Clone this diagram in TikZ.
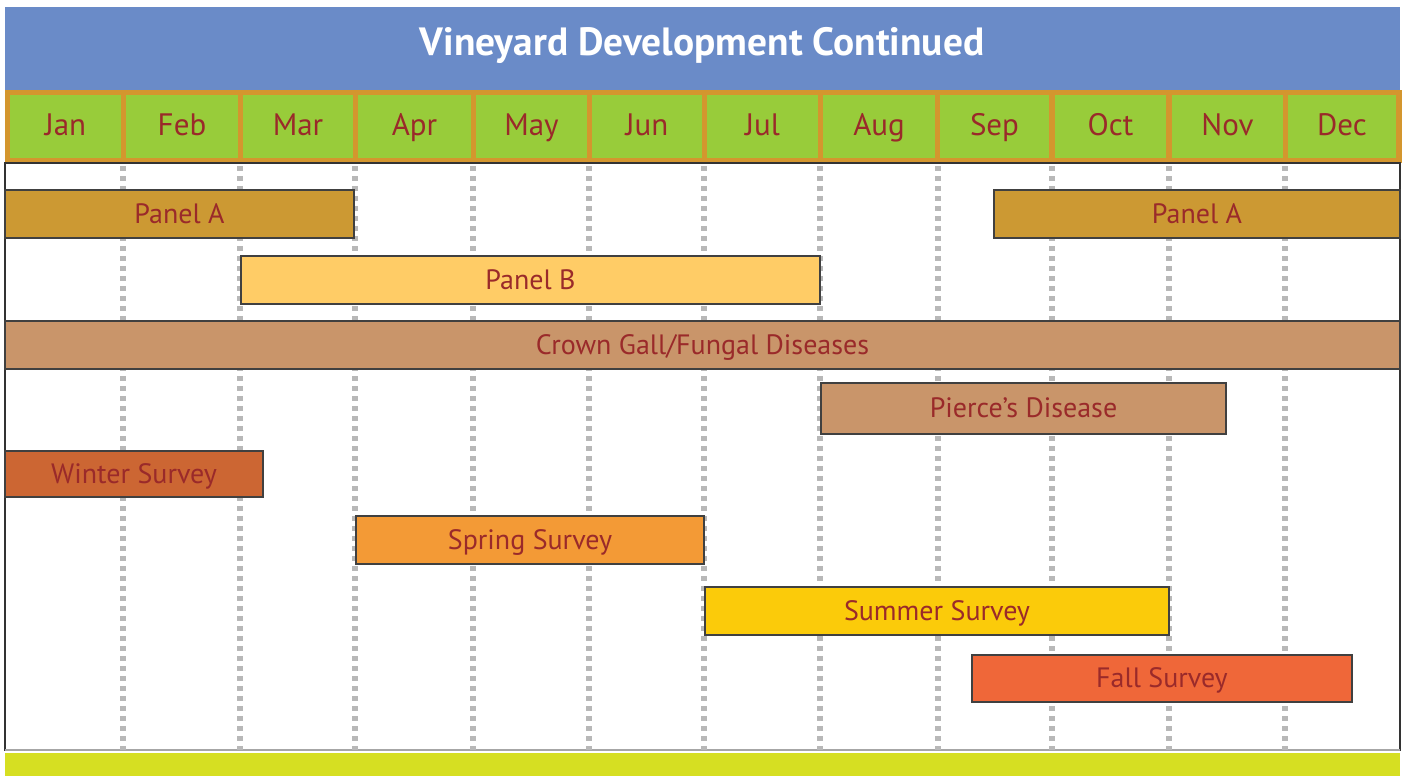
\documentclass[tikz,border=0pt]{standalone}
\usepackage{fontspec}
\setmainfont{PT Sans}
\usetikzlibrary{fit}
\definecolor{titleblue}{HTML}{6A8BC8}
\definecolor{bandorange}{HTML}{D4962E}
\definecolor{cellgreen}{HTML}{98CC3A}
\definecolor{labelred}{HTML}{9A2A2A}
\definecolor{gridgray}{HTML}{B8B8B8}
\definecolor{footlime}{HTML}{D6DF22}
\definecolor{panelA}{HTML}{CC9933}
\definecolor{panelB}{HTML}{FFCC66}
\definecolor{disease}{HTML}{C9956A}
\definecolor{winter}{HTML}{CC6633}
\definecolor{spring}{HTML}{F39A36}
\definecolor{summer}{HTML}{FBCB0A}
\definecolor{fall}{HTML}{EF6739}
\tikzset{
  % caps-centred text: box runs from baseline to cap height
  captext/.style={inner sep=0pt, anchor=center, text height=1.45ex, text depth=0pt},
  monthcell/.style={fill=cellgreen, draw=none, inner sep=0pt},
  monthtext/.style={captext, text=labelred, font=\fontsize{15.5}{15.5}\selectfont},
  bar/.style={draw=black!75, line width=0.7pt, inner sep=0pt},
  bartext/.style={captext, text=labelred, font=\fontsize{14}{14}\selectfont},
  gridline/.style={draw=gridgray, line width=2.6pt, dash pattern=on 2.4pt off 2.6pt},
}
\begin{document}
\begin{tikzpicture}[x=0.5pt,y=-0.5pt]
\useasboundingbox (0,0) rectangle (1405,776);
\fill[white] (0,0) rectangle (1405,776);
% title
\node[fill=titleblue, inner sep=0pt, fit={(5,7)(1400,90)}] (title) {};
\node[captext, text=white, font=\fontsize{19.7}{19.7}\selectfont\bfseries] (titletext) at (702,48) {Vineyard Development Continued};
% month band
\node[fill=bandorange, inner sep=0pt, fit={(5,90)(1402,163)}] (band) {};
\foreach \nm/\lbl/\xa/\xb in {jan/Jan/10/121, feb/Feb/126/238, mar/Mar/243/353,
    apr/Apr/358/471, may/May/476/587, jun/Jun/592/702, jul/Jul/707/818,
    aug/Aug/823/935, sep/Sep/940/1049, oct/Oct/1055/1166, nov/Nov/1172/1283,
    dec/Dec/1288/1396}{
  \node[monthcell, fit={(\xa,95)(\xb,158)}] (\nm) {};
  \node[monthtext] (\nm-label) at ([yshift=-1pt]\nm.center) {\lbl};
}
% chart area
\node[draw=black!80, line width=0.6pt, inner sep=0pt, fit={(5,163)(1400,750)}] (chart) {};
\draw[gray!70, line width=1.2pt] (5,750) -- (1400,750);
% month dividers
\foreach \x in {123,240,355,473,589,704,820,938,1052,1169,1285}
  \draw[gridline] (\x,166) -- (\x,750);
% footer
\node[fill=footlime, inner sep=0pt, fit={(5,753)(1400,776)}] (foot) {};
% activity bars
\foreach \nm/\fc/\xa/\ya/\xb/\yb/\lbl in {
    panelAearly/panelA/5/190/354/238/Panel A,
    panelAlate/panelA/994/190/1400/238/Panel A,
    panelB/panelB/241/256/820/304/Panel B,
    crown/disease/5/321/1400/369/Crown Gall\slash Fungal Diseases,
    pierce/disease/821/383/1226/434/Pierce’s Disease,
    winterS/winter/5/451/263/497/Winter Survey,
    springS/spring/356/516/704/564/Spring Survey,
    summerS/summer/705/587/1169/635/Summer Survey,
    fallS/fall/972/655/1352/702/Fall Survey}{
  \node[bar, fill=\fc, fit={(\xa,\ya)(\xb,\yb)}] (\nm) {};
  \node[bartext] (\nm-label) at ([yshift=-1pt]\nm.center) {\lbl};
}
\end{tikzpicture}
\end{document}
